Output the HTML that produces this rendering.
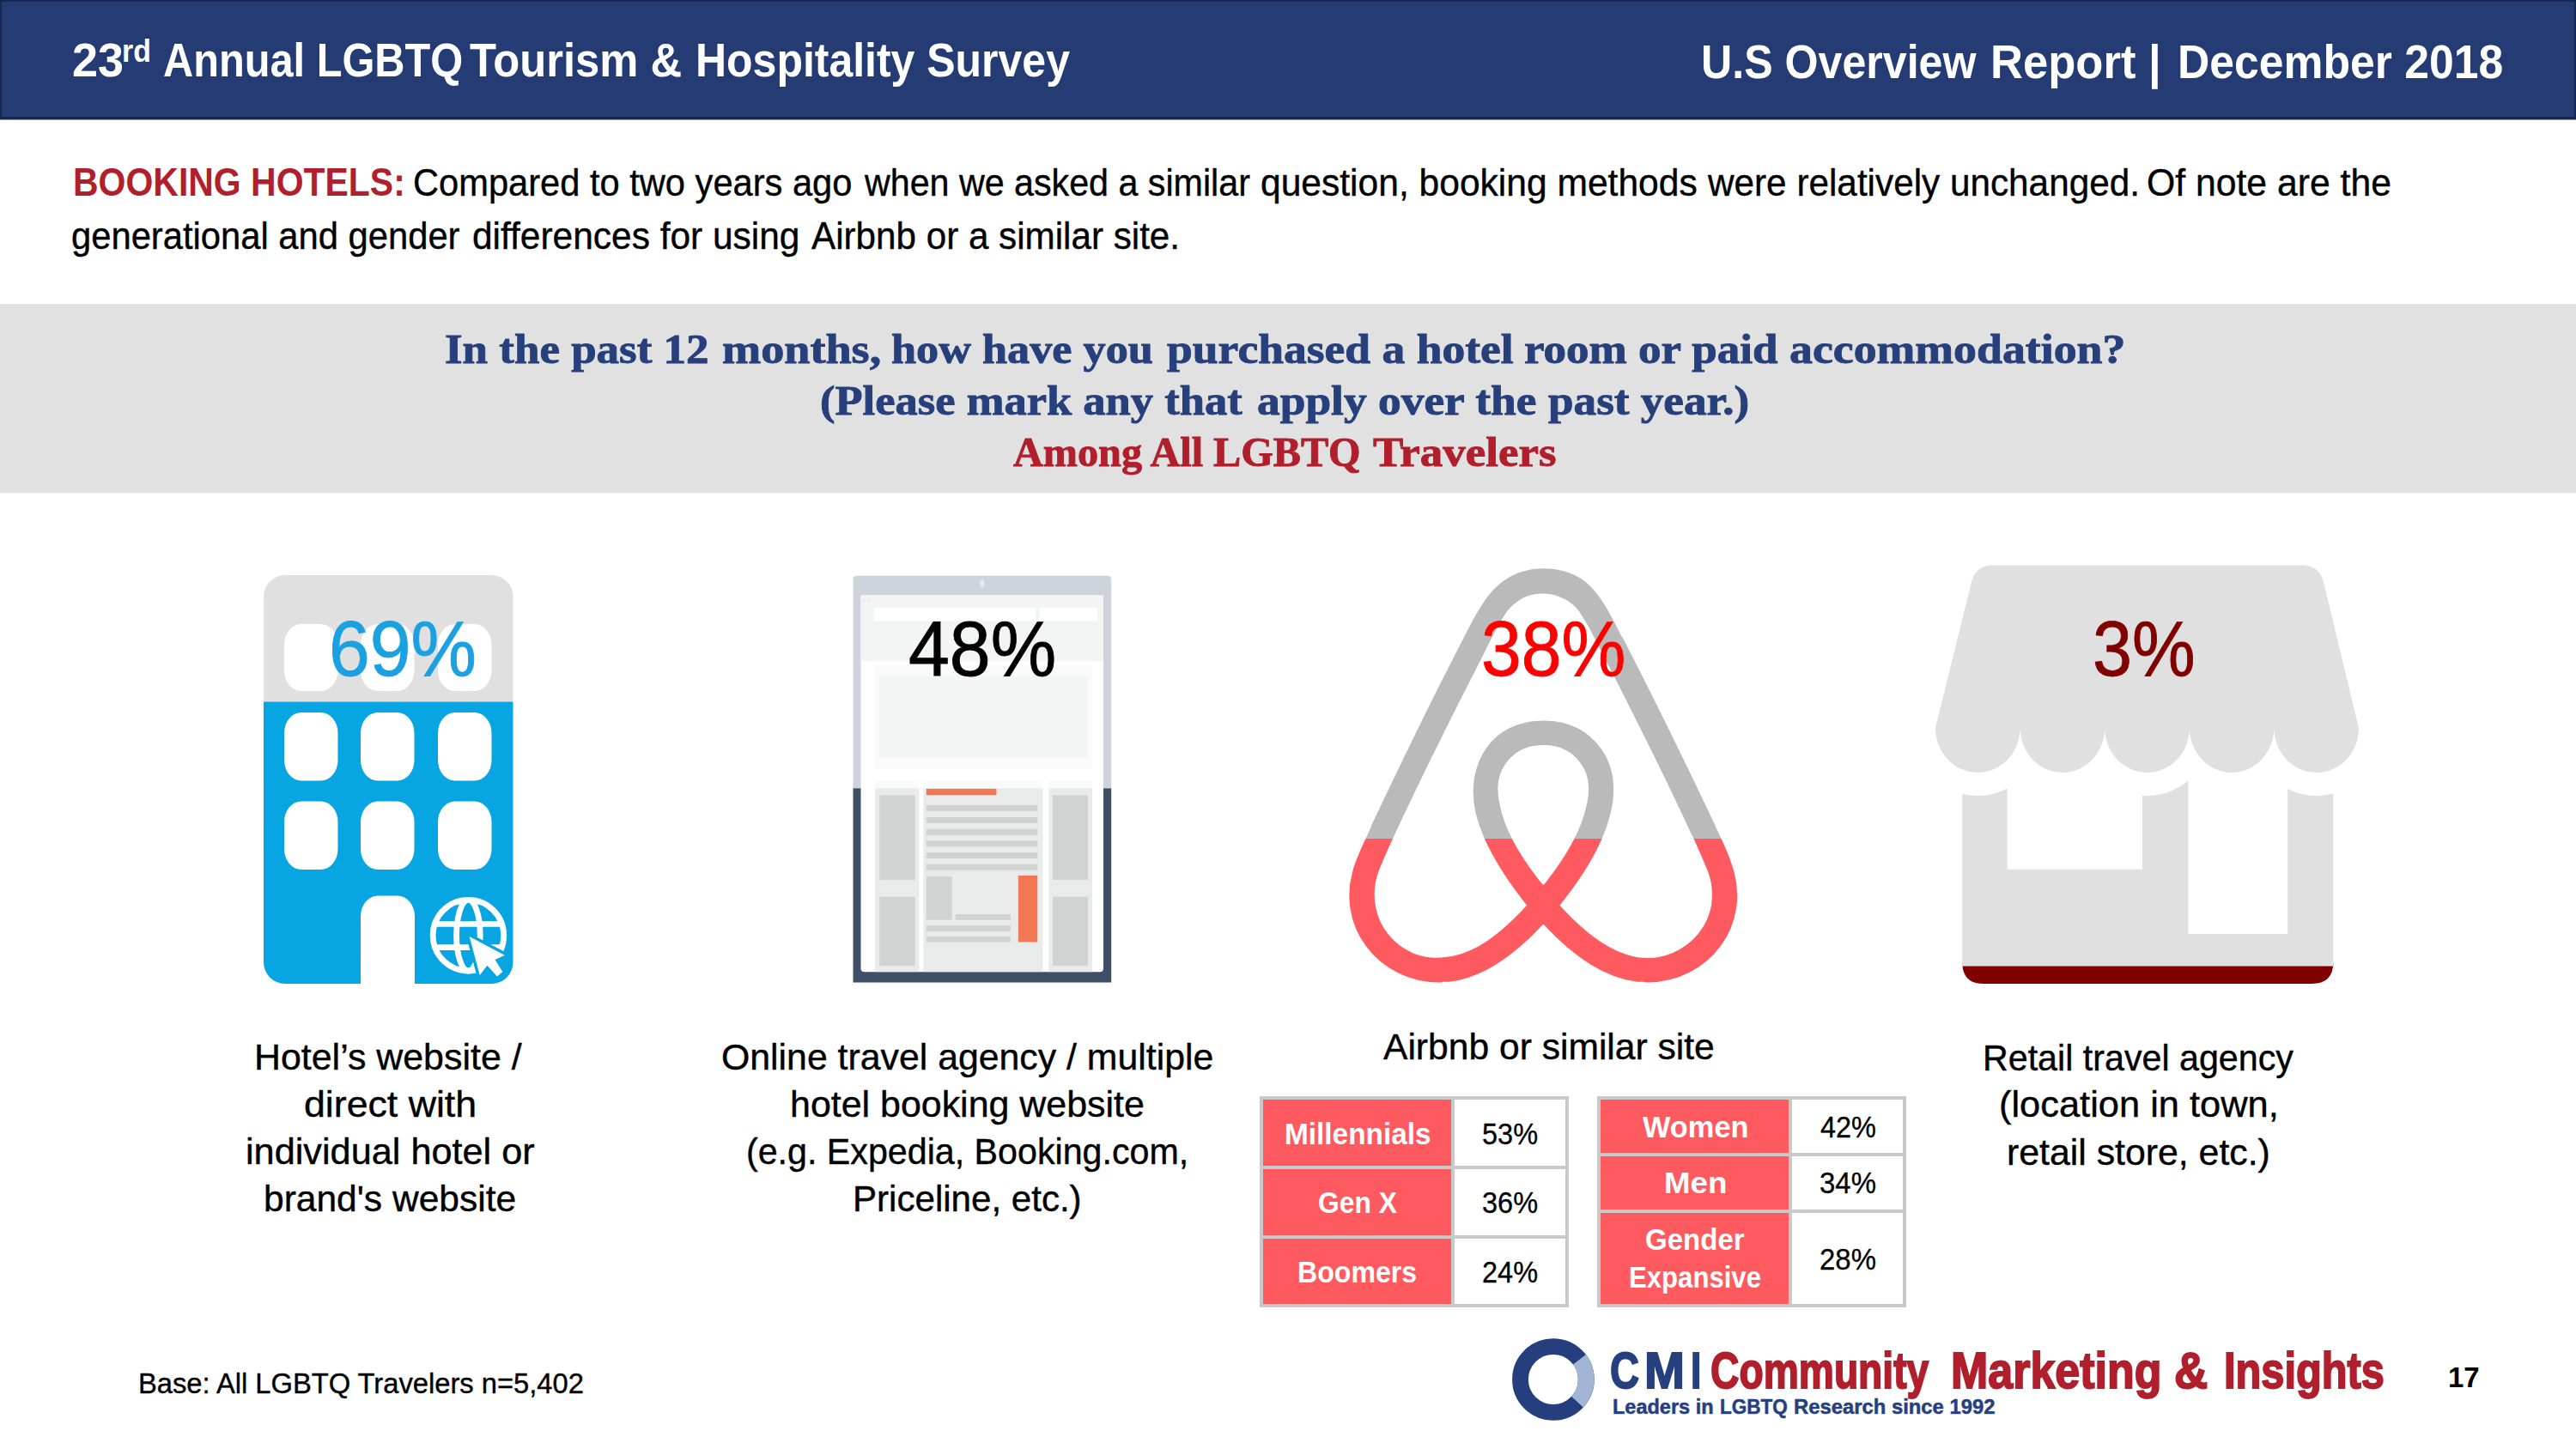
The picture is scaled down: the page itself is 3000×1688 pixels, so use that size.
<!DOCTYPE html>
<html lang="en">
<head>
<meta charset="utf-8">
<title>23rd Annual LGBTQ Tourism &amp; Hospitality Survey – Booking Hotels</title>
<style>
html,body{margin:0;padding:0;background:#fff;}
body{width:3000px;height:1688px;position:relative;overflow:hidden;font-family:'Liberation Sans',sans-serif;color:#000;}
.t{position:absolute;white-space:pre;line-height:1;transform-origin:0 0;display:block;}
.abs{position:absolute;}
#hdr{left:0;top:0;width:3000px;height:139px;box-sizing:border-box;background:#253b74;border:solid #18254f;border-width:2px 2px 3px 2px;box-shadow:0 1px 0 #8d95ad;}
#band{left:0;top:354px;width:3000px;height:220px;background:#e1e1e1;box-shadow:0 1px 0 #f0f0f0;}
.tbl{position:absolute;background:#c9c9c9;}
.tbl i{position:absolute;display:block;}
.r{background:#ff5a60;}
.w{background:#fff;}
svg{position:absolute;overflow:visible;}
</style>
</head>
<body>
<div id="hdr" class="abs"></div>
<div id="band" class="abs"></div>

<div class="tbl" style="left:1467px;top:1277px;width:360px;height:246px;">
<i class="r" style="left:4px;top:4px;width:219px;height:77px"></i><i class="w" style="left:227px;top:4px;width:129px;height:77px"></i>
<i class="r" style="left:4px;top:85px;width:219px;height:77px"></i><i class="w" style="left:227px;top:85px;width:129px;height:77px"></i>
<i class="r" style="left:4px;top:166px;width:219px;height:76px"></i><i class="w" style="left:227px;top:166px;width:129px;height:76px"></i>
</div>
<div class="tbl" style="left:1860px;top:1277px;width:360px;height:246px;">
<i class="r" style="left:4px;top:4px;width:219px;height:62px"></i><i class="w" style="left:227px;top:4px;width:129px;height:62px"></i>
<i class="r" style="left:4px;top:70px;width:219px;height:62px"></i><i class="w" style="left:227px;top:70px;width:129px;height:62px"></i>
<i class="r" style="left:4px;top:136px;width:219px;height:106px"></i><i class="w" style="left:227px;top:136px;width:129px;height:106px"></i>
</div>

<svg width="3000" height="1688" viewBox="0 0 3000 1688" style="left:0;top:0">
<defs>
<clipPath id="bc"><rect x="307" y="670" width="290.5" height="476" rx="25" ry="25"/></clipPath>
<clipPath id="abT"><rect x="1500" y="600" width="600" height="377"/></clipPath>
<clipPath id="abB"><rect x="1500" y="977" width="600" height="300"/></clipPath>
<clipPath id="gc"><circle cx="545.4" cy="1089.7" r="41.3"/></clipPath>
</defs>
<!-- hotel building -->
<g clip-path="url(#bc)">
<rect x="300" y="660" width="310" height="157.5" fill="#e0e0e0"/>
<rect x="300" y="817.5" width="310" height="340" fill="#07a5e1"/>
</g>
<g fill="#fff">
<rect x="331" y="727" width="62.5" height="78" rx="20" ry="24"/><rect x="420" y="727" width="62.5" height="78" rx="20" ry="24"/><rect x="510" y="727" width="62.5" height="78" rx="20" ry="24"/>
<rect x="331" y="830" width="62.5" height="79.5" rx="20" ry="24"/><rect x="420" y="830" width="62.5" height="79.5" rx="20" ry="24"/><rect x="510" y="830" width="62.5" height="79.5" rx="20" ry="24"/>
<rect x="331" y="933.5" width="62.5" height="79.5" rx="20" ry="24"/><rect x="420" y="933.5" width="62.5" height="79.5" rx="20" ry="24"/><rect x="510" y="933.5" width="62.5" height="79.5" rx="20" ry="24"/>
<path d="M420 1150V1067.5A20 24 0 0 1 440 1043.5H463A20 24 0 0 1 483 1067.5V1150Z"/>
</g>
<g fill="none" stroke="#fff" stroke-width="6.8">
<circle cx="545.4" cy="1089.7" r="41.3"/>
<ellipse cx="545.4" cy="1089.7" rx="13.8" ry="41.3"/>
<g clip-path="url(#gc)"><path d="M500 1076.3H592M500 1103.6H592"/></g>
</g>
<path d="M546.7 1091L587.7 1112.8L576.6 1118L585.3 1132L579 1137.4L567.4 1124.8L558.7 1136Z" fill="#fff" stroke="#07a5e1" stroke-width="7" paint-order="stroke" stroke-linejoin="miter"/>
<!-- tablet / web page -->
<path d="M993.5 918.3V675Q993.5 670.8 997.7 670.8H1290Q1294.2 670.8 1294.2 675V918.3Z" fill="#ced3dc"/>
<rect x="993.5" y="918.3" width="300.7" height="226.2" fill="#3e5068"/>
<ellipse cx="1143.7" cy="679.5" rx="2.6" ry="4.6" fill="#e6e9ee"/>
<path d="M1002.5 693.5H1285V1128Q1285 1132.2 1281 1132.2H1006.5Q1002.5 1132.2 1002.5 1128Z" fill="#fff"/>
<rect x="1002.5" y="693.5" width="282.5" height="76.5" fill="#f3f4f4"/>
<circle cx="1006.3" cy="699.6" r="1.3" fill="#fbdcd6"/><circle cx="1009.8" cy="699.6" r="1.3" fill="#fdf1d2"/><circle cx="1013.3" cy="699.6" r="1.3" fill="#d9f0d6"/>
<rect x="1018.2" y="708" width="188.2" height="15.4" fill="#fff"/><rect x="1210.7" y="708" width="67.3" height="15.4" fill="#fff"/>
<rect x="1018.8" y="774.6" width="253.2" height="121.1" fill="#fafafa"/>
<rect x="1024" y="788.6" width="243" height="94.1" fill="#f3f4f4"/>
<g fill="#fafafa"><rect x="1019" y="909.6" width="51.4" height="9"/><rect x="1075.4" y="909.6" width="139" height="9"/><rect x="1221.3" y="909.6" width="50.7" height="9"/></g>
<g fill="#e9eaea"><rect x="1019" y="918.3" width="51.4" height="213.9"/><rect x="1075.4" y="918.3" width="139" height="213.9"/><rect x="1221.3" y="918.3" width="50.7" height="213.9"/></g>
<g fill="#d1d3d3">
<rect x="1024.3" y="926.3" width="41.4" height="98.7"/><rect x="1024.3" y="1044.6" width="41.4" height="80.4"/>
<rect x="1226" y="926.3" width="41" height="98.7"/><rect x="1226" y="1044.6" width="41" height="80.4"/>
<rect x="1078.8" y="938" width="129.4" height="7"/><rect x="1078.8" y="952" width="129.4" height="7"/><rect x="1078.8" y="965.8" width="129.4" height="7"/>
<rect x="1078.8" y="979.4" width="129.4" height="7"/><rect x="1078.8" y="993" width="129.4" height="7"/><rect x="1078.8" y="1006.8" width="129.4" height="7"/>
<rect x="1078.8" y="1021" width="29.8" height="50.7"/><rect x="1112.7" y="1065" width="64.3" height="6.7"/>
<rect x="1078.8" y="1078.2" width="98.2" height="6.8"/><rect x="1078.8" y="1090.9" width="98.2" height="6.5"/>
</g>
<rect x="1078.8" y="918.9" width="81.6" height="7.4" fill="#f27855"/><rect x="1185.9" y="1019.9" width="22.3" height="77.5" fill="#f27855"/>
<!-- airbnb -->
<g clip-path="url(#abT)"><path transform="translate(1553.5 661.3) scale(20.314 20.171)" fill="#bababa" stroke="#fff" stroke-width="2" vector-effect="non-scaling-stroke" d="M12.001 18.275c-1.353-1.697-2.148-3.184-2.413-4.457-.263-1.027-.16-1.848.291-2.465.477-.71 1.188-1.056 2.121-1.056s1.643.345 2.12 1.063c.446.61.558 1.432.286 2.465-.291 1.298-1.085 2.785-2.412 4.458zm9.601 1.14c-.185 1.246-1.034 2.28-2.2 2.783-2.253.98-4.483-.583-6.392-2.704 3.157-3.951 3.74-7.028 2.385-9.018-.795-1.14-1.933-1.695-3.394-1.695-2.944 0-4.563 2.49-3.927 5.382.37 1.565 1.352 3.343 2.917 5.332-.98 1.085-1.91 1.856-2.732 2.333-.636.344-1.245.558-1.828.609-2.679.399-4.778-2.2-3.825-4.88.132-.345.395-.98.845-1.961l.025-.053c1.464-3.178 3.242-6.79 5.285-10.795l.053-.132.58-1.116c.45-.822.635-1.19 1.351-1.643.346-.21.77-.315 1.246-.315.954 0 1.698.558 2.016.995.158.239.345.557.582.953l.558 1.089.08.159c2.041 4.004 3.821 7.608 5.279 10.794l.026.025.533 1.22.318.764c.243.613.294 1.222.213 1.858zm1.22-2.39c-.186-.583-.505-1.271-.9-2.094v-.03c-1.889-4.004-3.642-7.608-5.307-10.844l-.111-.163C15.317 1.461 14.468 0 12.001 0c-2.44 0-3.476 1.695-4.535 3.898l-.081.16c-1.669 3.236-3.421 6.843-5.303 10.847v.053l-.559 1.22c-.21.504-.317.768-.345.847C-.172 20.74 2.611 24 5.98 24c.027 0 .132 0 .265-.027h.372c1.75-.213 3.554-1.325 5.384-3.317 1.829 1.989 3.635 3.104 5.382 3.317h.372c.133.027.239.027.265.027 3.37.003 6.152-3.261 4.8-6.975z"/></g>
<g clip-path="url(#abB)"><path transform="translate(1553.5 661.3) scale(20.314 20.171)" fill="#ff5a5f" stroke="#fff" stroke-width="2" vector-effect="non-scaling-stroke" d="M12.001 18.275c-1.353-1.697-2.148-3.184-2.413-4.457-.263-1.027-.16-1.848.291-2.465.477-.71 1.188-1.056 2.121-1.056s1.643.345 2.12 1.063c.446.61.558 1.432.286 2.465-.291 1.298-1.085 2.785-2.412 4.458zm9.601 1.14c-.185 1.246-1.034 2.28-2.2 2.783-2.253.98-4.483-.583-6.392-2.704 3.157-3.951 3.74-7.028 2.385-9.018-.795-1.14-1.933-1.695-3.394-1.695-2.944 0-4.563 2.49-3.927 5.382.37 1.565 1.352 3.343 2.917 5.332-.98 1.085-1.91 1.856-2.732 2.333-.636.344-1.245.558-1.828.609-2.679.399-4.778-2.2-3.825-4.88.132-.345.395-.98.845-1.961l.025-.053c1.464-3.178 3.242-6.79 5.285-10.795l.053-.132.58-1.116c.45-.822.635-1.19 1.351-1.643.346-.21.77-.315 1.246-.315.954 0 1.698.558 2.016.995.158.239.345.557.582.953l.558 1.089.08.159c2.041 4.004 3.821 7.608 5.279 10.794l.026.025.533 1.22.318.764c.243.613.294 1.222.213 1.858zm1.22-2.39c-.186-.583-.505-1.271-.9-2.094v-.03c-1.889-4.004-3.642-7.608-5.307-10.844l-.111-.163C15.317 1.461 14.468 0 12.001 0c-2.44 0-3.476 1.695-4.535 3.898l-.081.16c-1.669 3.236-3.421 6.843-5.303 10.847v.053l-.559 1.22c-.21.504-.317.768-.345.847C-.172 20.74 2.611 24 5.98 24c.027 0 .132 0 .265-.027h.372c1.75-.213 3.554-1.325 5.384-3.317 1.829 1.989 3.635 3.104 5.382 3.317h.372c.133.027.239.027.265.027 3.37.003 6.152-3.261 4.8-6.975z"/></g>
<!-- store -->
<path d="M2285.3 880H2717.3V1125.5H2285.3Z" fill="#e0e0e0"/>
<path d="M2285.3 1125.5H2717.3V1121Q2717.3 1146 2692.3 1146H2310.3Q2285.3 1146 2285.3 1121Z" fill="#800000"/>
<rect x="2337.7" y="880" width="157.3" height="132.7" fill="#fff"/><rect x="2548.4" y="880" width="115.8" height="208" fill="#fff"/>
<path id="awn" d="M2321 658.5H2681Q2701 658.5 2706 678L2747 848A49.3 52 0 0 1 2648.4 848A49.3 52 0 0 1 2549.8 848A49.3 52 0 0 1 2451.2 848A49.3 52 0 0 1 2352.6 848A49.3 52 0 0 1 2254 848L2296 678Q2301 658.5 2321 658.5Z" fill="#e0e0e0" stroke="#fff" stroke-width="54" paint-order="stroke"/>
<!-- CMI ring -->
<circle cx="1808.9" cy="1607" r="38.4" fill="none" stroke="#243e7e" stroke-width="18.8"/>
<path d="M1839.45 1583.73A38.4 38.4 0 0 1 1836.98 1633.19" fill="none" stroke="#a2b5d4" stroke-width="18.8"/>
</svg>

<span class="t" style="left:83.8px;top:43.0px;font-size:55.23px;font-weight:bold;color:#fff;transform:scaleX(0.9772)">23</span>
<span class="t" style="left:142.3px;top:42.0px;font-size:36.34px;font-weight:bold;color:#fff;transform:scaleX(0.9313)">rd</span>
<span class="t" style="left:190.0px;top:43.0px;font-size:55.23px;font-weight:bold;color:#fff;transform:scaleX(0.8826)">Annual LGBTQ</span>
<span class="t" style="left:546.6px;top:43.0px;font-size:55.23px;font-weight:bold;color:#fff;transform:scaleX(0.9188)">Tourism &amp;</span>
<span class="t" style="left:810.1px;top:43.0px;font-size:55.23px;font-weight:bold;color:#fff;transform:scaleX(0.9048)">Hospitality Survey</span>
<span class="t" style="left:1981.3px;top:45.0px;font-size:54.94px;font-weight:bold;color:#fff;transform:scaleX(0.9126)">U.S Overview</span>
<span class="t" style="left:2318.0px;top:45.0px;font-size:54.94px;font-weight:bold;color:#fff;transform:scaleX(0.9570)">Report |</span>
<span class="t" style="left:2535.8px;top:45.0px;font-size:54.94px;font-weight:bold;color:#fff;transform:scaleX(0.9406)">December 2018</span>
<span class="t" style="left:84.6px;top:190.0px;font-size:45.35px;font-weight:bold;color:#b11f2c;transform:scaleX(0.9033)">BOOKING HOTELS:</span>
<span class="t" style="left:481.2px;top:190.0px;font-size:44.77px;-webkit-text-stroke:0.4px #000;transform:scaleX(0.9300)">Compared to two years ago</span>
<span class="t" style="left:1007.2px;top:190.0px;font-size:44.77px;-webkit-text-stroke:0.4px #000;transform:scaleX(0.9205)">when we asked a similar</span>
<span class="t" style="left:1468.0px;top:190.0px;font-size:44.77px;-webkit-text-stroke:0.4px #000;transform:scaleX(0.9508)">question, booking methods</span>
<span class="t" style="left:1988.5px;top:190.0px;font-size:44.77px;-webkit-text-stroke:0.4px #000;transform:scaleX(0.9444)">were relatively unchanged.</span>
<span class="t" style="left:2499.8px;top:190.0px;font-size:44.77px;-webkit-text-stroke:0.4px #000;transform:scaleX(0.9542)">Of note are the</span>
<span class="t" style="left:83.3px;top:252.0px;font-size:44.77px;-webkit-text-stroke:0.4px #000;transform:scaleX(0.9323)">generational and gender</span>
<span class="t" style="left:550.3px;top:252.0px;font-size:44.77px;-webkit-text-stroke:0.4px #000;transform:scaleX(0.9482)">differences for using</span>
<span class="t" style="left:945.1px;top:252.0px;font-size:44.77px;-webkit-text-stroke:0.4px #000;transform:scaleX(0.9424)">Airbnb or a similar site.</span>
<span class="t" style="left:518.2px;top:382.0px;font-size:49.01px;font-family:'Liberation Serif', serif;font-weight:bold;color:#27407c;-webkit-text-stroke:0.9px #27407c;transform:scaleX(1.0809)">In the past 12</span>
<span class="t" style="left:840.5px;top:382.0px;font-size:49.01px;font-family:'Liberation Serif', serif;font-weight:bold;color:#27407c;-webkit-text-stroke:0.9px #27407c;transform:scaleX(1.1061)">months,</span>
<span class="t" style="left:1037.7px;top:382.0px;font-size:49.01px;font-family:'Liberation Serif', serif;font-weight:bold;color:#27407c;-webkit-text-stroke:0.9px #27407c;transform:scaleX(1.0662)">how have you</span>
<span class="t" style="left:1358.7px;top:382.0px;font-size:49.01px;font-family:'Liberation Serif', serif;font-weight:bold;color:#27407c;-webkit-text-stroke:0.9px #27407c;transform:scaleX(1.0930)">purchased a hotel</span>
<span class="t" style="left:1774.5px;top:382.0px;font-size:49.01px;font-family:'Liberation Serif', serif;font-weight:bold;color:#27407c;-webkit-text-stroke:0.9px #27407c;transform:scaleX(1.0820)">room or paid</span>
<span class="t" style="left:2083.9px;top:382.0px;font-size:49.01px;font-family:'Liberation Serif', serif;font-weight:bold;color:#27407c;-webkit-text-stroke:0.9px #27407c;transform:scaleX(1.0975)">accommodation?</span>
<span class="t" style="left:955.2px;top:442.0px;font-size:49.01px;font-family:'Liberation Serif', serif;font-weight:bold;color:#27407c;-webkit-text-stroke:0.9px #27407c;transform:scaleX(1.0720)">(Please mark any that</span>
<span class="t" style="left:1464.4px;top:442.0px;font-size:49.01px;font-family:'Liberation Serif', serif;font-weight:bold;color:#27407c;-webkit-text-stroke:0.9px #27407c;transform:scaleX(1.0899)">apply over the</span>
<span class="t" style="left:1802.8px;top:442.0px;font-size:49.01px;font-family:'Liberation Serif', serif;font-weight:bold;color:#27407c;-webkit-text-stroke:0.9px #27407c;transform:scaleX(1.0846)">past year.)</span>
<span class="t" style="left:1180.2px;top:502.0px;font-size:49.01px;font-family:'Liberation Serif', serif;font-weight:bold;color:#b11f2c;-webkit-text-stroke:0.9px #b11f2c;transform:scaleX(0.9841)">Among All LGBTQ</span>
<span class="t" style="left:1599.0px;top:502.0px;font-size:49.01px;font-family:'Liberation Serif', serif;font-weight:bold;color:#b11f2c;-webkit-text-stroke:0.9px #b11f2c;transform:scaleX(1.0797)">Travelers</span>
<span class="t" style="left:382.9px;top:710.0px;font-size:91.72px;color:#1ba1e2;-webkit-text-stroke:0.9px #1ba1e2;transform:scaleX(0.9367)">69%</span>
<span class="t" style="left:1058.1px;top:710.0px;font-size:91.72px;-webkit-text-stroke:0.9px #000;transform:scaleX(0.9374)">48%</span>
<span class="t" style="left:1724.5px;top:710.0px;font-size:91.72px;color:#ff0000;-webkit-text-stroke:0.9px #ff0000;transform:scaleX(0.9169)">38%</span>
<span class="t" style="left:2436.7px;top:710.0px;font-size:91.72px;color:#800000;-webkit-text-stroke:0.9px #800000;transform:scaleX(0.9024)">3%</span>
<span class="t" style="left:296.2px;top:1211.0px;font-size:41.86px;-webkit-text-stroke:0.4px #000;transform:scaleX(1.0249)">Hotel’s website /</span>
<span class="t" style="left:353.8px;top:1266.0px;font-size:41.86px;-webkit-text-stroke:0.4px #000;transform:scaleX(1.0670)">direct with</span>
<span class="t" style="left:286.0px;top:1321.0px;font-size:41.86px;-webkit-text-stroke:0.4px #000;transform:scaleX(1.0334)">individual hotel or</span>
<span class="t" style="left:307.2px;top:1376.0px;font-size:41.86px;-webkit-text-stroke:0.4px #000;transform:scaleX(1.0157)">brand's website</span>
<span class="t" style="left:839.7px;top:1211.0px;font-size:41.86px;-webkit-text-stroke:0.4px #000;transform:scaleX(1.0224)">Online travel agency / multiple</span>
<span class="t" style="left:920.2px;top:1266.0px;font-size:41.86px;-webkit-text-stroke:0.4px #000;transform:scaleX(1.0256)">hotel booking website</span>
<span class="t" style="left:869.2px;top:1321.0px;font-size:41.86px;-webkit-text-stroke:0.4px #000;transform:scaleX(0.9840)">(e.g. Expedia, Booking.com,</span>
<span class="t" style="left:992.9px;top:1376.0px;font-size:41.86px;-webkit-text-stroke:0.4px #000;transform:scaleX(1.0054)">Priceline, etc.)</span>
<span class="t" style="left:1610.9px;top:1199.0px;font-size:41.86px;-webkit-text-stroke:0.4px #000;transform:scaleX(1.0175)">Airbnb or similar site</span>
<span class="t" style="left:2308.6px;top:1212.0px;font-size:41.86px;-webkit-text-stroke:0.4px #000;transform:scaleX(0.9844)">Retail travel agency</span>
<span class="t" style="left:2327.8px;top:1266.0px;font-size:41.86px;-webkit-text-stroke:0.4px #000;transform:scaleX(1.0372)">(location in town,</span>
<span class="t" style="left:2337.3px;top:1322.0px;font-size:41.86px;-webkit-text-stroke:0.4px #000;transform:scaleX(1.0226)">retail store, etc.)</span>
<span class="t" style="left:1495.9px;top:1304.0px;font-size:34.59px;font-weight:bold;color:#fff;transform:scaleX(0.9647)">Millennials</span>
<span class="t" style="left:1726.4px;top:1304.0px;font-size:34.16px;-webkit-text-stroke:0.3px #000;transform:scaleX(0.9515)">53%</span>
<span class="t" style="left:1534.6px;top:1384.0px;font-size:34.59px;font-weight:bold;color:#fff;transform:scaleX(0.9194)">Gen X</span>
<span class="t" style="left:1726.4px;top:1384.0px;font-size:34.16px;-webkit-text-stroke:0.3px #000;transform:scaleX(0.9515)">36%</span>
<span class="t" style="left:1510.7px;top:1465.0px;font-size:34.59px;font-weight:bold;color:#fff;transform:scaleX(0.9286)">Boomers</span>
<span class="t" style="left:1726.4px;top:1465.0px;font-size:34.16px;-webkit-text-stroke:0.3px #000;transform:scaleX(0.9515)">24%</span>
<span class="t" style="left:1913.3px;top:1296.0px;font-size:34.59px;font-weight:bold;color:#fff;transform:scaleX(0.9943)">Women</span>
<span class="t" style="left:2119.6px;top:1296.0px;font-size:34.16px;-webkit-text-stroke:0.3px #000;transform:scaleX(0.9507)">42%</span>
<span class="t" style="left:1937.7px;top:1361.0px;font-size:34.59px;font-weight:bold;color:#fff;transform:scaleX(1.0615)">Men</span>
<span class="t" style="left:2118.6px;top:1361.0px;font-size:34.16px;-webkit-text-stroke:0.3px #000;transform:scaleX(0.9652)">34%</span>
<span class="t" style="left:1915.8px;top:1427.0px;font-size:34.59px;font-weight:bold;color:#fff;transform:scaleX(0.9555)">Gender</span>
<span class="t" style="left:1896.6px;top:1471.0px;font-size:34.59px;font-weight:bold;color:#fff;transform:scaleX(0.9000)">Expansive</span>
<span class="t" style="left:2118.6px;top:1450.0px;font-size:34.16px;-webkit-text-stroke:0.3px #000;transform:scaleX(0.9652)">28%</span>
<span class="t" style="left:161.3px;top:1594.0px;font-size:34.01px;-webkit-text-stroke:0.4px #000;transform:scaleX(0.9616)">Base: All LGBTQ Travelers n=5,402</span>
<span class="t" style="left:2851.3px;top:1588.0px;font-size:33.43px;font-weight:bold;transform:scaleX(0.9853)">17</span>
<span class="t" style="left:1874.6px;top:1567.0px;font-size:59.16px;font-weight:bold;color:#26407e;-webkit-text-stroke:1.9px #26407e;transform:scaleX(0.7951)">C</span>
<span class="t" style="left:1915.3px;top:1567.0px;font-size:59.16px;font-weight:bold;color:#26407e;-webkit-text-stroke:1.9px #26407e;transform:scaleX(0.9535)">M</span>
<span class="t" style="left:1969.0px;top:1567.0px;font-size:59.16px;font-weight:bold;color:#26407e;-webkit-text-stroke:1.9px #26407e;transform:scaleX(0.7500)">I</span>
<span class="t" style="left:1992.2px;top:1567.0px;font-size:59.45px;font-weight:bold;color:#b11f2c;-webkit-text-stroke:1.9px #b11f2c;transform:scaleX(0.7780)">Community</span>
<span class="t" style="left:2271.8px;top:1567.0px;font-size:59.45px;font-weight:bold;color:#b11f2c;-webkit-text-stroke:1.9px #b11f2c;transform:scaleX(0.8742)">Marketing</span>
<span class="t" style="left:2532.1px;top:1567.0px;font-size:59.45px;font-weight:bold;color:#b11f2c;-webkit-text-stroke:1.9px #b11f2c;transform:scaleX(0.9150)">&amp;</span>
<span class="t" style="left:2590.3px;top:1567.0px;font-size:59.45px;font-weight:bold;color:#b11f2c;-webkit-text-stroke:1.9px #b11f2c;transform:scaleX(0.8206)">Insights</span>
<span class="t" style="left:1878.1px;top:1628.0px;font-size:23.69px;font-weight:bold;color:#26407e;-webkit-text-stroke:0.5px #26407e;transform:scaleX(0.9922)">Leaders in</span>
<span class="t" style="left:2003.0px;top:1628.0px;font-size:23.69px;font-weight:bold;color:#26407e;-webkit-text-stroke:0.5px #26407e;transform:scaleX(0.9494)">LGBTQ</span>
<span class="t" style="left:2088.7px;top:1628.0px;font-size:23.69px;font-weight:bold;color:#26407e;-webkit-text-stroke:0.5px #26407e;transform:scaleX(1.0056)">Research since 1992</span>
</body>
</html>
